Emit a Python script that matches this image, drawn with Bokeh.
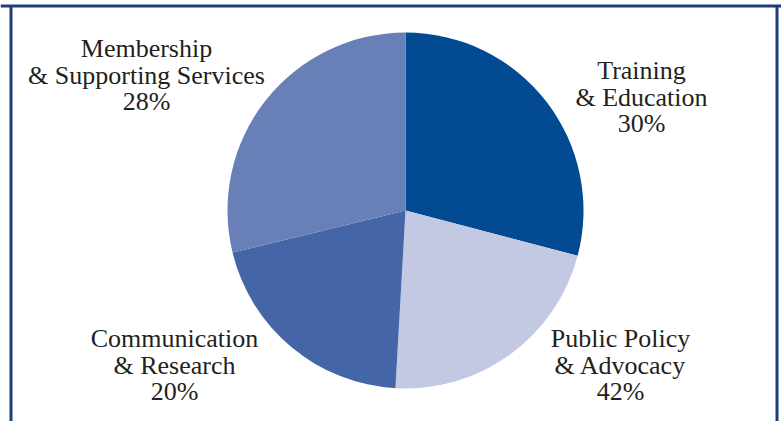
from bokeh.plotting import figure
from bokeh.models import Range1d, ColumnDataSource
from bokeh.core.properties import value
from bokeh.embed import file_html
from bokeh.resources import INLINE
import math

# data
categories = ["Training\n& Education", "Public Policy\n& Advocacy",
              "Communication\n& Research", "Membership\n& Supporting Services"]
shares = [29.1, 21.8, 20.3, 28.8]          # slice sizes
pct_labels = ["30%", "42%", "20%", "28%"]   # printed labels
colors = ["#024a92", "#c3c8e3", "#4466a6", "#697fb8"]

W, H = 781, 421
p = figure(width=W, height=H, output_backend="svg", toolbar_location=None,
           x_range=Range1d(0, W), y_range=Range1d(0, H),
           min_border=0)
p.axis.visible = False
p.grid.visible = False
p.outline_line_color = None
p.background_fill_color = "white"
p.border_fill_color = "white"

def Y(ypage):
    return H - ypage

cx, cy, r = 405, Y(210), 178
total = sum(shares)
starts, ends = [], []
a = math.pi / 2
for s in shares:
    b = a - s / total * 2 * math.pi
    starts.append(b)
    ends.append(a)
    a = b
src = ColumnDataSource(dict(start=starts, end=ends, color=colors))
p.wedge(x=cx, y=cy, radius=r, start_angle="start", end_angle="end",
        fill_color="color", line_color=None, source=src)

# frame lines
p.segment(x0=[0, 10.5, 776.5], y0=[Y(5.5), Y(5.5), Y(5.5)],
          x1=[781, 10.5, 776.5], y1=[Y(5.5), Y(421), Y(421)],
          line_color="#203c7c", line_width=3)

# labels
anchors = [(641, 70), (620, 338), (174, 338), (146, 48)]
lx, ly, lt = [], [], []
for (ax, ay), cat, pc in zip(anchors, categories, pct_labels):
    lines = cat.split("\n") + [pc]
    for i, t in enumerate(lines):
        lx.append(ax)
        ly.append(Y(ay + i * 26.5))
        lt.append(t)
p.text(x=lx, y=ly, text=lt, text_align="center", text_baseline="middle",
       text_font=value("Liberation Serif"), text_font_size="26px",
       text_color="#231f20")

open("out.html", "w").write(file_html(p, INLINE))
